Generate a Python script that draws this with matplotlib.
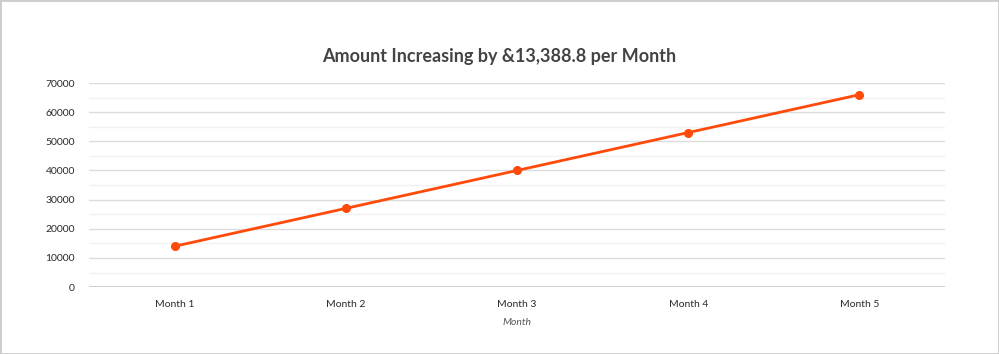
import matplotlib.pyplot as plt
from matplotlib.patches import Rectangle
from matplotlib.ticker import MultipleLocator

plt.rcParams['font.family'] = ['Lato', 'DejaVu Sans']

months = ["Month 1", "Month 2", "Month 3", "Month 4", "Month 5"]
amounts = [14000, 27000, 40000, 53000, 66000]

fig = plt.figure(figsize=(9.99, 3.54), dpi=100)
ax = fig.add_axes([0.089, 0.189, 0.857, 0.5765])

x = list(range(len(months)))
ax.plot(x, amounts, color='#ff4a0a', lw=2, marker='o', ms=5.5, zorder=3)

ax.set_xlim(-0.5, len(months) - 0.5)
ax.set_ylim(0, 70000)
ax.yaxis.set_major_locator(MultipleLocator(10000))
ax.yaxis.set_minor_locator(MultipleLocator(5000))
ax.grid(axis='y', which='major', color='#dcdcdc', lw=1)
ax.grid(axis='y', which='minor', color='#f1f1f1', lw=1)
ax.axhline(0, color='#d0d0d0', lw=1.5, zorder=1)
ax.set_axisbelow(True)

ax.set_xticks(x)
ax.set_xticklabels(months)
for s in ax.spines.values():
    s.set_visible(False)
ax.tick_params(axis='both', which='both', length=0)
ax.tick_params(axis='both', labelsize=7.5, colors='#2a2a2a')
ax.tick_params(axis='x', pad=9)
ax.tick_params(axis='y', pad=10)

ax.set_xlabel("Month", fontsize=7.5, style='italic', color='#555555', labelpad=7)
fig.text(0.5, 0.84, "Amount Increasing by &13,388.8 per Month", ha='center',
         va='center', fontsize=13, color='#444444', fontweight='bold')

fig.patches.append(Rectangle((0, 0), 1, 1, transform=fig.transFigure,
                             fill=False, edgecolor='#cccccc', lw=2))

fig.savefig('out.png', dpi=100)
